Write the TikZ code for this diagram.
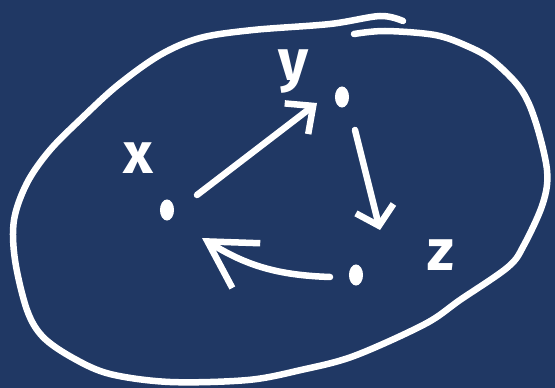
\documentclass[tikz,border=0pt]{standalone}
\usepackage{fontspec}
\setmainfont{Fira Sans}
\usepackage{tikz}
\usetikzlibrary{shapes.geometric, arrows.meta}
\definecolor{BoardBlue}{HTML}{203864}

\begin{document}
\begin{tikzpicture}[x=0.02cm, y=-0.02cm, line cap=round, line join=round,
    every node/.style={text=white, font=\fontsize{33}{38}\selectfont\bfseries},
    chalk/.style={draw=white, line width=3.7pt},
    dot/.style={ellipse, fill=white, inner sep=0pt, minimum width=8pt, minimum height=12pt},
    flow/.style 2 args={chalk, -{Straight Barb[length=#1, width=#2, line width=3.7pt]}}]
    \fill[BoardBlue] (0,0) rectangle (555,388);
    \useasboundingbox (0,0) rectangle (555,388);
    % the loop
    \draw[chalk] plot[smooth, tension=0.55] coordinates {(403,21) (380,16) (330,24) (253,30)
        (200,38) (160,55) (118,85) (83,117) (50,150) (27,183) (14,220) (15,260) (27,310)
        (43,337) (73,358) (110,374) (170,382) (248,380) (301,370) (354,356) (425,324)
        (460,300) (508,267) (524,245) (543,203) (547,170) (535,120) (520,88) (492,60)
        (467,46) (435,35) (385,31) (354,34)};
    % points and labels
    \node[dot](x)at(167,210){};
    \node[dot](y)at(342,97){};
    \node[dot](z)at(356,275){};
    \node(xl)at(138,158){x};
    \node(yl)at(294,72){y};
    \node(zl)at(441,255){z};
    \draw[flow={12pt}{22pt}]([shift={(30,-15)}]x.center)--([shift={(-25,6)}]y.center);
    \draw[flow={10pt}{22pt}]([shift={(13,33)}]y.center)--([shift={(24,-45)}]z.center);
    \draw[flow={26pt}{30pt}]([shift={(-26,2)}]z.center)to[bend left=15]([shift={(35,28)}]x.center);
\end{tikzpicture}
\end{document}
